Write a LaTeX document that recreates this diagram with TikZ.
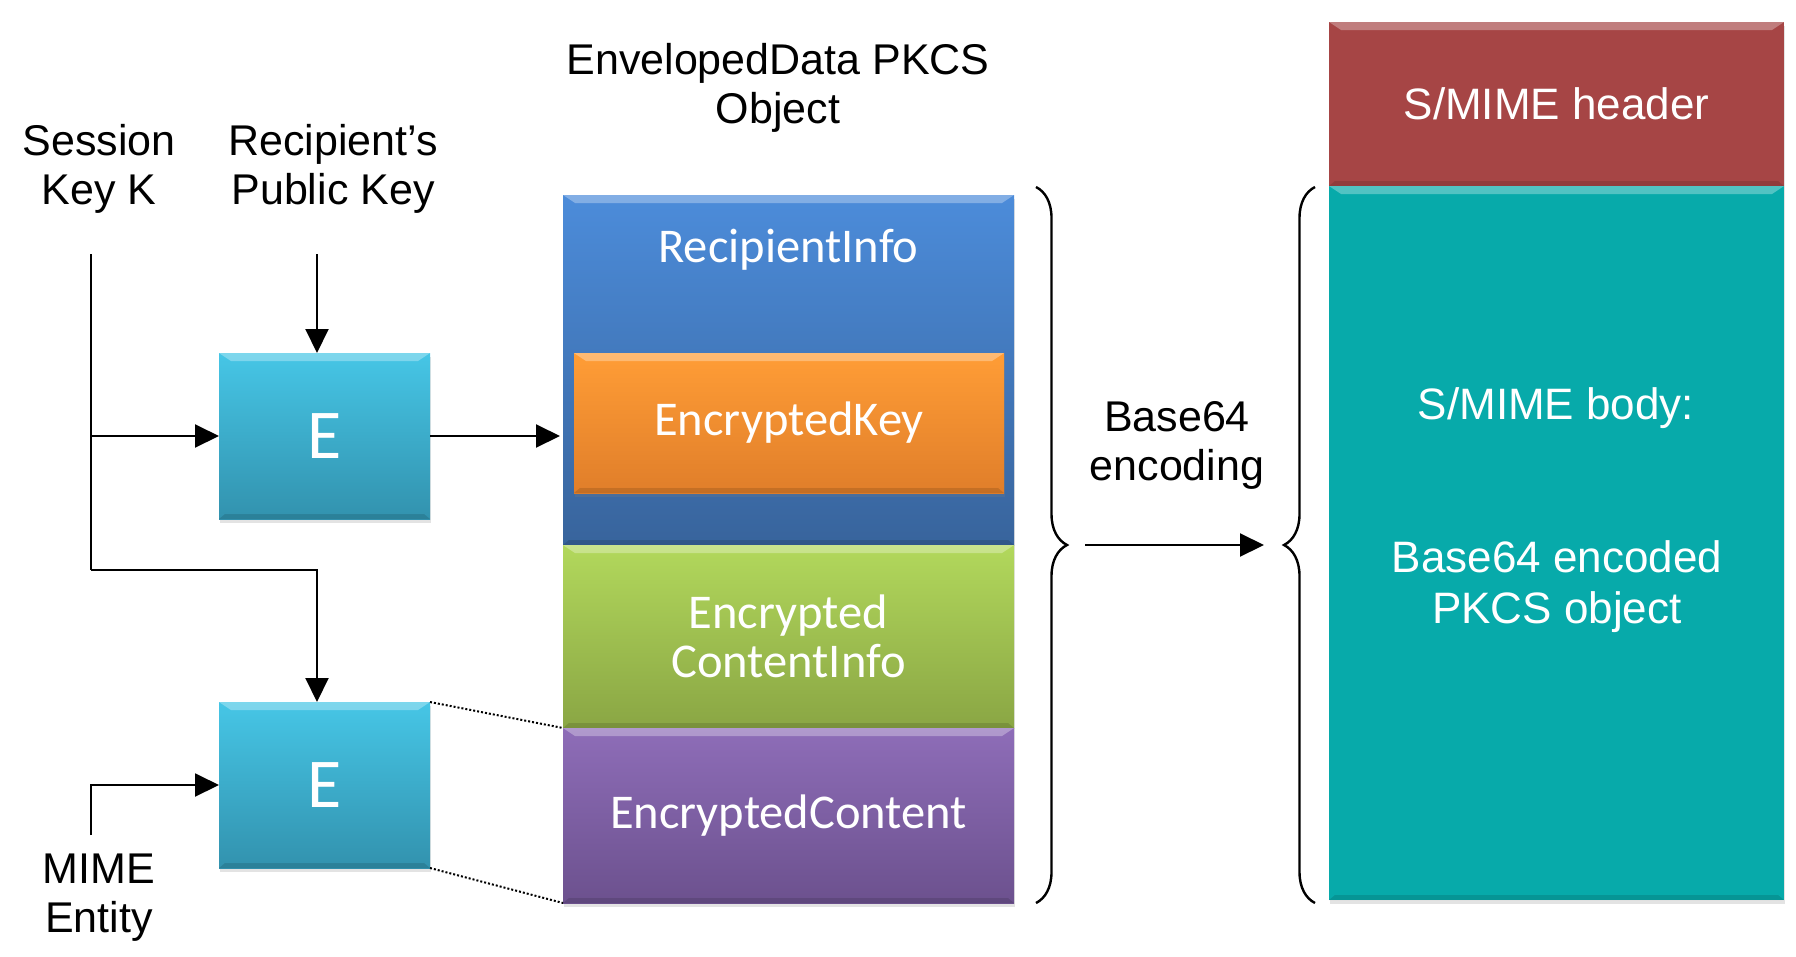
\documentclass[tikz,border=0pt]{standalone}
\usepackage{fontspec}
\setmainfont{Liberation Sans}
\newfontfamily\calibri{Carlito}
\usetikzlibrary{positioning, arrows.meta, decorations.pathreplacing, shadows}

\definecolor{infotop}{HTML}{4C8CDA}
\definecolor{infobot}{HTML}{38649C}
\definecolor{keytop}{HTML}{FF9D36}
\definecolor{keybot}{HTML}{E07E2A}
\definecolor{cinfotop}{HTML}{B2D85C}
\definecolor{cinfobot}{HTML}{8AA644}
\definecolor{conttop}{HTML}{8E6DB8}
\definecolor{contbot}{HTML}{6C518E}
\definecolor{enctop}{HTML}{46C6E6}
\definecolor{encbot}{HTML}{3292AE}
\definecolor{hdrred}{HTML}{A64545}
\definecolor{bodyteal}{HTML}{07AAAA}

\begin{document}
\begin{tikzpicture}[x=1pt, y=-1pt, node distance=0pt, line width=2pt,
    lbl/.style={align=center, inner sep=0pt, font=\fontsize{43}{49}\selectfont},
    bevel/.style={path picture={
      \fill[white, fill opacity=0.3]
        (path picture bounding box.north west) -- (path picture bounding box.north east)
        -- ([shift={(-12pt,-8pt)}]path picture bounding box.north east)
        -- ([shift={(12pt,-8pt)}]path picture bounding box.north west) -- cycle;
      \fill[black, fill opacity=0.12]
        (path picture bounding box.south west) -- (path picture bounding box.south east)
        -- ([shift={(-6pt,5pt)}]path picture bounding box.south east)
        -- ([shift={(6pt,5pt)}]path picture bounding box.south west) -- cycle;}},
    block/.style={bevel, inner sep=0pt, outer sep=0pt, text=white, align=center,
      drop shadow={opacity=0.22, shadow xshift=1pt, shadow yshift=-4pt}},
    pkcspart/.style={block, minimum width=451pt, font=\calibri\fontsize{48.5}{49}\selectfont},
    pkcstxt/.style={inner sep=0pt, text=white, font=\calibri\fontsize{48.5}{49}\selectfont},
    ebox/.style={block, minimum width=211pt, minimum height=166pt,
      top color=enctop, bottom color=encbot, font=\calibri\fontsize{70}{70}\selectfont},
    smbox/.style={block, minimum width=455pt, font=\fontsize{44}{50}\selectfont},
    smtxt/.style={align=center, inner sep=0pt, text=white, font=\fontsize{44}{51}\selectfont},
    arr/.style={-{Triangle[length=24pt, width=23pt]}},
    curly/.style={decorate, decoration={brace, amplitude=31pt}, line width=2.4pt}
  ]
  \useasboundingbox (0,0) rectangle (1796,956);

  % Nodes for the inputs
  \node[lbl] (session) at (99,169) {Session\\Key K};
  \node[lbl] (pubkey) at (333,169) {Recipient’s\\Public Key};
  \node[lbl] (mimeent) at (99,898) {MIME\\Entity};
  \node[ebox] (enc1) at (324.5,436) {E};
  \node[ebox] (enc2) at (324.5,785) {E};

  % Nodes for the PKCS object
  \node[lbl] (pkcs) at (778,88) {EnvelopedData PKCS\\Object};
  \node[pkcspart, minimum height=350pt, top color=infotop, bottom color=infobot] (recip) at (788.5,370) {};
  \node[pkcspart, minimum height=183pt, top color=cinfotop, bottom color=cinfobot] (ecinfo) [below=of recip] {Encrypted\\ContentInfo};
  \node[pkcspart, minimum height=175pt, top color=conttop, bottom color=contbot] (econt) [below=of ecinfo] {EncryptedContent};
  \node[pkcspart, minimum width=430pt, minimum height=140pt, top color=keytop, bottom color=keybot] (enckey) at (789,423) {EncryptedKey};
  \node[pkcstxt, anchor=base] (recipinfo) at ([yshift=-67pt]recip.north) {RecipientInfo};

  % Nodes for the S/MIME message
  \node[lbl] (b64) at (1177,445) {Base64\\encoding};
  \node[smbox, minimum height=164pt, fill=hdrred] (smhead) at (1556.5,104) {S/MIME header};
  \node[smbox, minimum height=714pt, fill=bodyteal] (smbody) [below=of smhead] {};
  \node[smtxt] (bodytitle) at (1556,408) {S/MIME body:};
  \node[smtxt] (bodytxt) at (1557,587) {Base64 encoded\\PKCS object};

  % Loose ends
  \coordinate (skey) at (91,254);
  \coordinate (pkey) at (317,254);
  \coordinate (split) at (91,570);
  \coordinate (mime) at (91,835);
  \coordinate (b64in) at (1085,545);
  \coordinate (b64out) at (1264,545);

  % Edges for the encryption
  \draw (skey) -- (split);
  \draw[arr] (split) -| (pkey |- enc2.north);
  \draw[arr] (mime) |- (enc2);
  \path[arr]
    (pkey) edge (pkey |- enc1.north)
    (skey |- enc1) edge (enc1)
    (enc1) edge[shorten >=3pt] (recip.west |- enc1)
    (b64in) edge (b64out);
  \draw[dash pattern=on 2pt off 2pt]
    (enc2.north east) -- (econt.north west)
    (enc2.south east) -- (econt.south west);

  % Braces
  \draw[curly] ([shift={(22pt,8pt)}]recip.north east) -- ([xshift=22pt]econt.south east);
  \draw[curly] ([shift={(-14pt,-3pt)}]smbody.south west) -- ([shift={(-14pt,-1pt)}]smbody.north west);
\end{tikzpicture}
\end{document}
